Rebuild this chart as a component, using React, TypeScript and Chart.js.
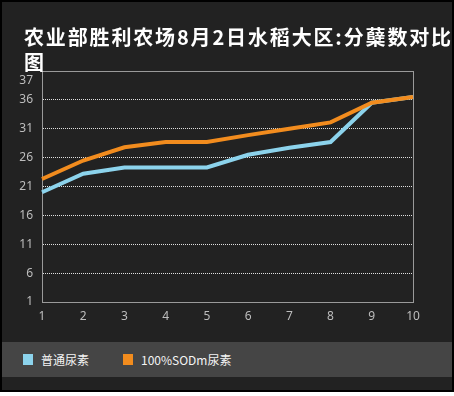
import React, { useEffect, useRef } from "react";
import { Chart, registerables } from "chart.js";

Chart.register(...registerables);

const titleLines = ["农业部胜利农场8月2日水稻大区:分蘖数对比", "图"];
const categories = ["1", "2", "3", "4", "5", "6", "7", "8", "9", "10"];
const seriesNames = ["普通尿素", "100%SODm尿素"];
const seriesColors = ["#8CD3EC", "#F28C1E"];
const normalUrea = [20, 23.2, 24.3, 24.3, 24.3, 26.5, 27.7, 28.7, 35.5, 36.5];
const sodUrea = [22.3, 25.5, 27.8, 28.7, 28.7, 29.9, 31, 32.1, 35.5, 36.5];
const yTickValues = [1, 6, 11, 16, 21, 26, 31, 36, 39.4];
const yTickLabels = ["1", "6", "11", "16", "21", "26", "31", "36", "37"];
const yMin = 1;
const yMax = 41;

const framePlugin = {
  id: "frame",
  beforeDatasetsDraw(chart: any) {
    const { ctx, chartArea } = chart;
    ctx.save();
    ctx.strokeStyle = "#9a9a9a";
    ctx.lineWidth = 1;
    ctx.strokeRect(chartArea.left + 0.5, chartArea.top + 0.5, chartArea.right - chartArea.left, chartArea.bottom - chartArea.top);
    ctx.restore();
  },
};

export default function App() {
  const ref = useRef<HTMLCanvasElement>(null);
  useEffect(() => {
    document.body.style.margin = "0";
    const chart = new Chart(ref.current!, {
      type: "line",
      data: {
        labels: categories,
        datasets: [
          {
            label: seriesNames[0],
            data: normalUrea,
            borderColor: seriesColors[0],
            backgroundColor: seriesColors[0],
            borderWidth: 4,
            pointRadius: 0,
            tension: 0,
            order: 2,
          },
          {
            label: seriesNames[1],
            data: sodUrea,
            borderColor: seriesColors[1],
            backgroundColor: seriesColors[1],
            borderWidth: 4,
            pointRadius: 0,
            tension: 0,
            order: 1,
          },
        ],
      },
      options: {
        animation: false,
        responsive: false,
        maintainAspectRatio: false,
        layout: { padding: { left: 0, right: 39, top: 69, bottom: 48 } },
        plugins: {
          legend: { display: false },
          tooltip: { enabled: false },
          title: { display: false },
        },
        scales: {
          x: {
            grid: { display: false, drawTicks: false },
            border: { color: "#9a9a9a", width: 1 },
            ticks: { color: "#bdbdbd", font: { family: "'Noto Sans'", size: 12 }, padding: 7, maxRotation: 0 },
            afterFit(scale: any) {
              scale.height = 40;
            },
          },
          y: {
            min: yMin,
            max: yMax,
            afterBuildTicks(scale: any) {
              scale.ticks = yTickValues.map((v) => ({ value: v }));
            },
            afterFit(scale: any) {
              scale.width = 40;
            },
            grid: {
              drawTicks: false,
              color: (c: any) => {
                const v = c.tick ? c.tick.value : null;
                return v !== null && v > yMin && v <= 36 ? "#e0e0e0" : "rgba(0,0,0,0)";
              },
              lineWidth: 1,
            },
            border: { color: "#9a9a9a", width: 1, dash: [1, 1] },
            ticks: {
              color: "#bdbdbd",
              font: { family: "'Noto Sans'", size: 12 },
              padding: 9,
              autoSkip: false,
              callback: (_v: any, i: number) => yTickLabels[i],
            },
          },
        },
      },
      plugins: [framePlugin],
    });
    return () => chart.destroy();
  }, []);

  const legendItem = (i: number, left: number) => (
    <div
      key={i}
      style={{
        position: "absolute",
        left,
        top: 0,
        height: 35,
        display: "flex",
        alignItems: "center",
        color: "#f4f4f4",
        fontFamily: "'Noto Sans CJK SC', 'Noto Sans'",
        fontSize: 12,
      }}
    >
      <span style={{ display: "inline-block", width: 10, height: 11, background: seriesColors[i], marginRight: 8 }} />
      <span>{seriesNames[i]}</span>
    </div>
  );

  return (
    <div style={{ width: 454, height: 396, background: "#fff", position: "relative" }}>
      <div
        style={{
          position: "absolute",
          left: 0,
          top: 0,
          width: 450,
          height: 388,
          border: "2px solid #000",
          background: "#222222",
        }}
      >
        <div style={{ position: "absolute", left: 0, top: 340, width: 450, height: 35, background: "#454545" }}>
          {legendItem(0, 21)}
          {legendItem(1, 121)}
        </div>
        <canvas ref={ref} width={450} height={388} style={{ position: "absolute", left: 0, top: 0, width: 450, height: 388 }} />
        <div
          style={{
            position: "absolute",
            left: 22,
            top: 22,
            color: "#ffffff",
            fontFamily: "'Noto Sans CJK SC', 'Noto Sans'",
            fontWeight: "bold",
            fontSize: 20,
            lineHeight: "25px",
            letterSpacing: "1.85px",
            whiteSpace: "nowrap",
          }}
        >
          {titleLines[0]}
          <br />
          {titleLines[1]}
        </div>
      </div>
    </div>
  );
}
